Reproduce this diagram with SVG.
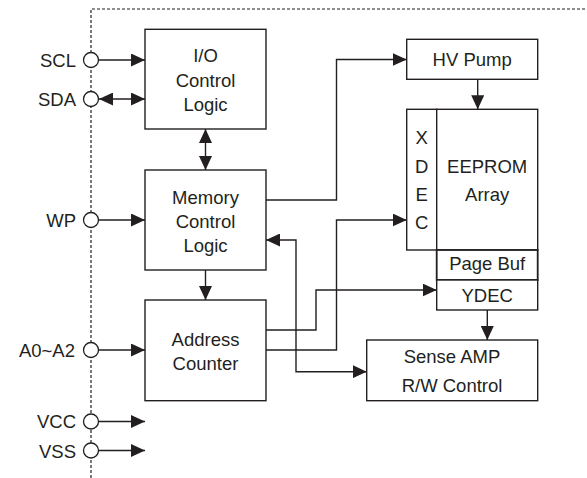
<svg xmlns="http://www.w3.org/2000/svg" width="587" height="478" viewBox="0 0 587 478">
<defs>
<style>
.box{fill:#fff;stroke:#231f20;stroke-width:1.4}
.ln{fill:none;stroke:#231f20;stroke-width:1.4}
.dash{fill:none;stroke:#231f20;stroke-width:1.2;stroke-dasharray:3,2}
.pin{fill:#fff;stroke:#231f20;stroke-width:1.3}
text{font-family:"Liberation Sans",Arial,sans-serif;font-size:18.5px;fill:#231f20}
.c{text-anchor:middle}
.r{text-anchor:end}
</style>
<marker id="ah" markerUnits="userSpaceOnUse" markerWidth="14" markerHeight="13" refX="14" refY="6.5" orient="auto-start-reverse" viewBox="0 0 14 13">
<path d="M0,0 L14,6.5 L0,13 Z" fill="#231f20"/>
</marker>
</defs>
<rect width="587" height="478" fill="#fff"/>
<g id="boundary">
<path class="dash" d="M91,478 V9 H587"/>
</g>
<g id="connectors">
<line class="ln" x1="99" y1="60" x2="145" y2="60" marker-end="url(#ah)"/>
<line class="ln" x1="99" y1="99" x2="145" y2="99" marker-start="url(#ah)" marker-end="url(#ah)"/>
<line class="ln" x1="99" y1="220" x2="145" y2="220" marker-end="url(#ah)"/>
<line class="ln" x1="99" y1="350" x2="145" y2="350" marker-end="url(#ah)"/>
<line class="ln" x1="99" y1="421.5" x2="145" y2="421.5" marker-end="url(#ah)"/>
<line class="ln" x1="99" y1="450.5" x2="145" y2="450.5" marker-end="url(#ah)"/>
<line class="ln" x1="205.5" y1="129" x2="205.5" y2="170" marker-start="url(#ah)" marker-end="url(#ah)"/>
<line class="ln" x1="205.5" y1="270" x2="205.5" y2="300" marker-end="url(#ah)"/>
<path class="ln" d="M266,200 H336.5 V59.5 H406.7" marker-end="url(#ah)"/>
<path class="ln" d="M266,350 H336.5 V220 H406.7" marker-end="url(#ah)"/>
<path class="ln" d="M266,330 H316 V290 H436.7" marker-end="url(#ah)"/>
<path class="ln" d="M266,240 H296 V371.7 H366.7" marker-start="url(#ah)" marker-end="url(#ah)"/>
<line class="ln" x1="477.7" y1="79.3" x2="477.7" y2="109.3" marker-end="url(#ah)"/>
<line class="ln" x1="487.3" y1="310" x2="487.3" y2="340" marker-end="url(#ah)"/>
</g>
<g id="pin-scl"><circle class="pin" cx="91" cy="60" r="7.5"/><text class="r" x="76" y="66.5">SCL</text></g>
<g id="pin-sda"><circle class="pin" cx="91" cy="99" r="7.5"/><text class="r" x="76" y="105.5">SDA</text></g>
<g id="pin-wp"><circle class="pin" cx="91" cy="220" r="7.5"/><text class="r" x="76" y="226.8">WP</text></g>
<g id="pin-a"><circle class="pin" cx="91" cy="350" r="7.5"/><text class="r" x="75" y="357">A0~A2</text></g>
<g id="pin-vcc"><circle class="pin" cx="91" cy="421.5" r="7.5"/><text class="r" x="76" y="428">VCC</text></g>
<g id="pin-vss"><circle class="pin" cx="91" cy="450.5" r="7.5"/><text class="r" x="76" y="457.5">VSS</text></g>
<g id="io-control">
<rect class="box" x="145" y="29.3" width="121" height="99.7"/>
<text class="c" x="205.5" y="62">I/O</text>
<text class="c" x="205.5" y="86.5">Control</text>
<text class="c" x="205.5" y="110.5">Logic</text>
</g>
<g id="memory-control">
<rect class="box" x="145" y="170" width="121" height="100"/>
<text class="c" x="205.5" y="203.5">Memory</text>
<text class="c" x="205.5" y="227.5">Control</text>
<text class="c" x="205.5" y="251.5">Logic</text>
</g>
<g id="address-counter">
<rect class="box" x="145" y="300" width="121" height="100.7"/>
<text class="c" x="205.5" y="346">Address</text>
<text class="c" x="205.5" y="369.5">Counter</text>
</g>
<g id="hv-pump">
<rect class="box" x="406.7" y="39.3" width="131" height="40"/>
<text class="c" x="472.2" y="66">HV Pump</text>
</g>
<g id="xdec">
<rect class="box" x="406.7" y="109.3" width="30" height="140.7"/>
<text class="c" x="421.7" y="144">X</text>
<text class="c" x="421.7" y="172.5">D</text>
<text class="c" x="421.7" y="201">E</text>
<text class="c" x="421.7" y="229">C</text>
</g>
<g id="eeprom-array">
<rect class="box" x="436.7" y="109.3" width="101" height="140.7"/>
<text class="c" x="487.2" y="172.5">EEPROM</text>
<text class="c" x="487.2" y="200.5">Array</text>
</g>
<g id="page-buf">
<rect class="box" x="436.7" y="250" width="101" height="30" style="stroke-width:1.8"/>
<text class="c" x="487.2" y="269.5">Page Buf</text>
</g>
<g id="ydec">
<rect class="box" x="436.7" y="280" width="101" height="30"/>
<text class="c" x="487.2" y="301.7">YDEC</text>
</g>
<g id="sense-amp">
<rect class="box" x="366.7" y="340" width="171" height="60.7"/>
<text class="c" x="452" y="363.3">Sense AMP</text>
<text class="c" x="452" y="391.7">R/W Control</text>
</g>
</svg>
